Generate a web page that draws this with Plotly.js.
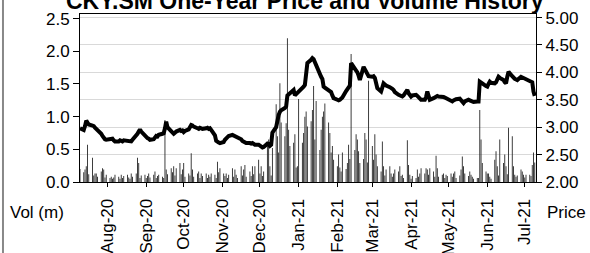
<!DOCTYPE html>
<html><head><meta charset="utf-8">
<script src="https://cdn.plot.ly/plotly-3.0.1.min.js"></script>
<style>html,body{margin:0;padding:0;background:#fff}#chart{width:590px;height:253px}</style>
</head><body><div id="chart"></div>
<script>
const chartTitle = 'CKY.SM One-Year Price and Volume History';
const startDate = '2020-07-10';
const endDate = '2021-07-09';
const monthTicks = ['2020-08-01','2020-09-01','2020-10-01','2020-11-01','2020-12-01','2021-01-01','2021-02-01','2021-03-01','2021-04-01','2021-05-01','2021-06-01','2021-07-01'];
const monthLabels = ['Aug-20','Sep-20','Oct-20','Nov-20','Dec-20','Jan-21','Feb-21','Mar-21','Apr-21','May-21','Jun-21','Jul-21'];
const volTicks = [0, 0.5, 1.0, 1.5, 2.0, 2.5];
const priceTicks = [2.0, 2.5, 3.0, 3.5, 4.0, 4.5, 5.0];

// one value per weekday (Mon-Fri), starting Fri 10 Jul 2020
const price = [
2.98,
2.95,3.02,3.12,3.08,3.05,
3.03,3.02,2.99,2.97,2.95,
2.88,2.84,2.80,2.78,2.77,
2.78,2.80,2.79,2.76,2.74,
2.74,2.76,2.75,2.74,2.76,
2.75,2.74,2.73,2.74,2.77,
2.84,2.88,2.92,2.96,2.92,
2.84,2.82,2.80,2.79,2.77,
2.78,2.81,2.84,2.83,2.86,
2.88,2.89,2.98,3.10,3.00,
2.92,2.90,2.88,2.90,2.92,
2.95,2.93,2.94,2.91,2.93,
2.96,3.00,3.04,3.03,3.01,
2.98,2.97,2.99,2.98,2.97,
2.98,2.99,2.97,2.98,2.95,
2.85,2.75,2.72,2.72,2.71,
2.73,2.77,2.80,2.82,2.84,
2.86,2.85,2.84,2.84,2.82,
2.78,2.75,2.73,2.72,2.71,
2.71,2.70,2.71,2.69,2.68,
2.68,2.66,2.64,2.63,2.64,
2.70,2.69,2.66,2.68,2.90,
3.00,3.15,3.22,3.28,3.31,
3.35,3.38,3.58,3.60,3.62,
3.68,3.58,3.60,3.62,3.66,
3.70,3.74,3.77,4.00,4.17,
4.23,4.26,4.24,4.18,4.12,
3.96,3.92,3.88,3.74,3.72,
3.68,3.66,3.64,3.58,3.53,
3.50,3.49,3.50,3.52,3.54,
3.66,3.70,3.74,3.76,4.17,
4.08,4.03,4.00,3.94,3.86,
4.10,4.06,4.01,3.97,3.93,
3.92,3.93,3.90,3.76,3.71,
3.65,3.74,3.80,3.78,3.76,
3.73,3.72,3.70,3.68,3.64,
3.59,3.58,3.57,3.56,3.58,
3.68,3.62,3.57,3.56,3.58,
3.59,3.57,3.54,3.52,3.50,
3.50,3.55,3.65,3.55,3.50,
3.53,3.55,3.56,3.57,3.56,
3.56,3.55,3.54,3.53,3.52,
3.48,3.47,3.49,3.50,3.51,
3.52,3.50,3.46,3.44,3.47,
3.50,3.49,3.48,3.47,3.46,
3.47,3.47,3.83,3.82,3.80,
3.75,3.74,3.79,3.83,3.81,
3.80,3.82,3.86,3.92,3.90,
3.86,3.82,3.80,3.92,4.01,
3.93,3.90,3.88,3.87,3.86,
3.92,3.91,3.90,3.89,3.88,
3.86,3.84,3.82,3.65,3.57
];

const volume = [
0.20,
0.15,0.19,0.24,0.57,0.12,
0.37,0.10,0.13,0.13,0.08,
0.16,0.21,0.19,0.07,0.11,
0.06,0.08,0.05,0.07,0.11,
0.08,0.05,0.11,0.06,0.09,
0.11,0.07,0.05,0.13,0.08,
0.13,0.37,0.29,0.06,0.10,
0.11,0.06,0.09,0.13,0.07,
0.11,0.16,0.06,0.09,0.11,
0.08,0.06,0.95,0.19,0.12,
0.21,0.15,0.24,0.10,0.21,
0.29,0.12,0.19,0.29,0.08,
0.13,0.10,0.44,0.19,0.08,
0.13,0.16,0.06,0.13,0.09,
0.13,0.06,0.11,0.08,0.13,
0.11,0.06,0.31,0.15,0.21,
0.13,0.09,0.13,0.06,0.11,
0.21,0.08,0.19,0.11,0.06,
0.24,0.10,0.19,0.26,0.08,
0.16,0.09,0.24,0.12,0.24,
0.34,0.13,0.24,0.09,0.16,
0.57,0.65,0.24,0.10,0.52,
1.19,0.70,0.45,1.51,0.91,
0.70,0.90,2.20,0.80,0.55,
0.60,0.73,0.22,0.24,1.27,
0.60,0.75,1.00,1.08,0.85,
0.93,1.10,1.47,0.65,1.24,
0.49,0.80,1.00,1.08,1.20,
0.91,0.75,0.45,0.55,0.34,
0.24,0.42,0.22,0.16,0.45,
0.20,0.29,0.57,0.35,1.96,
0.49,0.73,0.65,0.47,0.29,
0.35,0.75,0.65,0.30,1.55,
0.55,0.34,0.73,0.42,0.24,
0.16,0.62,0.24,0.10,0.19,
0.24,0.13,0.08,0.13,0.19,
0.16,0.24,0.09,0.11,0.06,
0.64,0.26,0.11,0.05,0.09,
0.06,0.19,0.08,0.13,0.21,
0.13,0.21,0.19,0.11,0.21,
0.16,0.08,0.40,0.21,0.08,
0.11,0.13,0.06,0.11,0.09,
0.13,0.08,0.13,0.16,0.06,
0.10,0.19,0.39,0.24,0.13,
0.09,0.16,0.11,0.08,0.05,
0.06,0.06,1.10,0.65,0.29,
0.16,0.13,0.13,0.08,0.05,
0.34,0.47,0.24,0.10,0.65,
0.29,0.42,0.24,0.12,0.83,
0.70,0.24,0.11,0.08,0.10,
0.19,0.16,0.11,0.07,0.11,
0.11,0.09,0.26,0.45,0.30
];

function weekdays(s, e) {
  const out = [];
  let d = new Date(s + 'T00:00:00Z');
  const end = new Date(e + 'T00:00:00Z');
  while (d <= end) {
    const w = d.getUTCDay();
    if (w !== 0 && w !== 6) out.push(d.toISOString().slice(0, 10));
    d = new Date(d.getTime() + 86400000);
  }
  return out;
}
const dates = weekdays(startDate, endDate);

const FONT = '"Liberation Sans", Arial, Helvetica, sans-serif';

const traces = [
  {type: 'bar', x: dates, y: volume, yaxis: 'y', marker: {color: '#222222', line: {width: 0}}, hoverinfo: 'skip'},
  {type: 'scatter', mode: 'lines', x: dates, y: price, yaxis: 'y2', line: {color: '#000000', width: 4}, hoverinfo: 'skip'}
];

const layout = {
  width: 590, height: 253,
  margin: {l: 80, r: 54, t: 14, b: 71, pad: 0},
  paper_bgcolor: '#ffffff', plot_bgcolor: '#ffffff',
  showlegend: false,
  bargap: 0.3,
  font: {family: FONT, size: 17, color: '#000'},
  xaxis: {
    type: 'date', range: ['2020-07-10', '2021-07-10'],
    tickvals: monthTicks, ticktext: monthLabels, tickangle: -90,
    ticks: 'outside', ticklen: 4, tickcolor: '#000',
    showline: true, linecolor: '#000', linewidth: 1, mirror: true,
    showgrid: false, zeroline: false, ticklabelstandoff: 5,
    tickfont: {family: FONT, size: 17, color: '#000'}
  },
  yaxis: {
    range: [0, 2.57], tickvals: volTicks, tickformat: '.1f',
    ticks: 'outside', ticklen: 6, tickcolor: '#000',
    showline: true, linecolor: '#000', linewidth: 1,
    showgrid: false, zeroline: false,
    tickfont: {family: FONT, size: 17, color: '#000'}
  },
  yaxis2: {
    overlaying: 'y', side: 'right', range: [2, 5.065], tickvals: priceTicks, tickformat: '.2f',
    ticks: 'outside', ticklen: 5, tickcolor: '#000',
    showline: true, linecolor: '#000', linewidth: 1,
    showgrid: true, gridcolor: '#d9d9d9', gridwidth: 1, zeroline: false,
    tickfont: {family: FONT, size: 17, color: '#000'}
  },
  annotations: [
    {text: '<b>' + chartTitle + '</b>', xref: 'paper', yref: 'paper', x: 0.4934, y: 1.075,
     xanchor: 'center', yanchor: 'middle', showarrow: false,
     font: {family: FONT, size: 23, color: '#000'}},
    {text: 'Vol (m)', xref: 'paper', yref: 'paper', x: -0.1579, y: -0.1834,
     xanchor: 'left', yanchor: 'middle', showarrow: false,
     font: {family: FONT, size: 17, color: '#000'}},
    {text: 'Price', xref: 'paper', yref: 'paper', x: 1.019, y: -0.1834,
     xanchor: 'left', yanchor: 'middle', showarrow: false,
     font: {family: FONT, size: 17, color: '#000'}}
  ],
  shapes: [
    {type: 'line', xref: 'paper', yref: 'paper', x0: -0.1689, x1: -0.1689, y0: -0.43, y1: 1.09,
     line: {color: '#888888', width: 2}}
  ]
};

Plotly.newPlot('chart', traces, layout, {staticPlot: true, displayModeBar: false});
</script>
</body></html>
